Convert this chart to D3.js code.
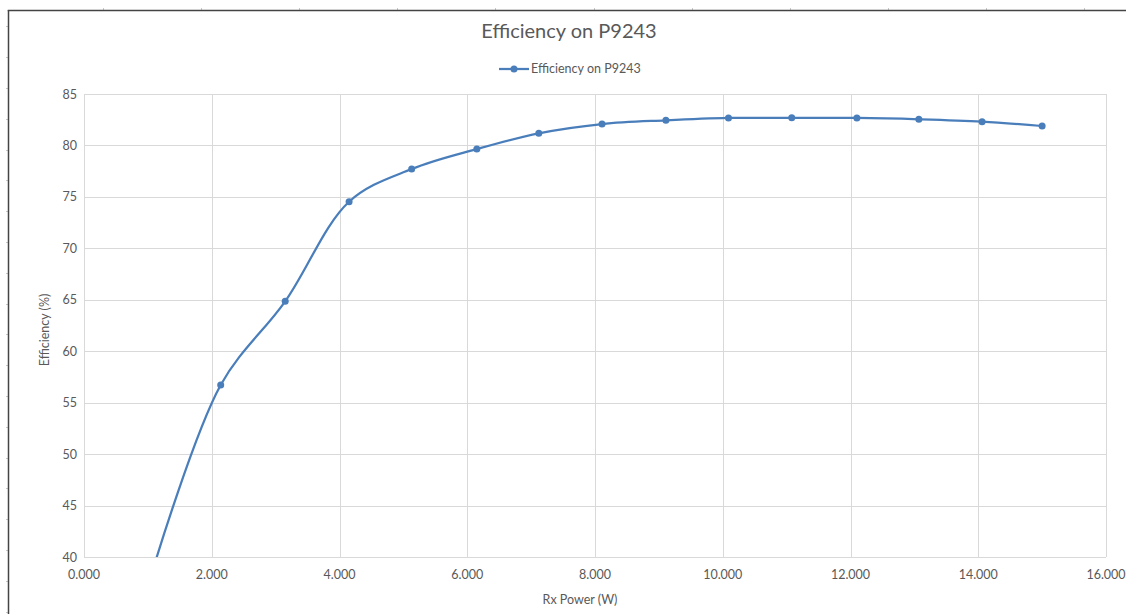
<!DOCTYPE html>
<html><head><meta charset="utf-8">
<script src="https://cdn.jsdelivr.net/npm/d3@7"></script>
<style>body{margin:0;background:#fff;} text{font-family:Lato,"Open Sans",sans-serif;}</style>
</head><body>
<svg id="c" width="1126" height="614"></svg>
<script>
const rxPower = [1.10, 2.14, 3.15, 4.15, 5.13, 6.15, 7.12, 8.11, 9.11, 10.09, 11.08, 12.10, 13.07, 14.06, 15.00];
const efficiency = [39.2, 56.72, 64.85, 74.53, 77.71, 79.65, 81.18, 82.08, 82.44, 82.67, 82.68, 82.67, 82.54, 82.31, 81.89];
const xTicks = [0, 2, 4, 6, 8, 10, 12, 14, 16];
const yTicks = [40, 45, 50, 55, 60, 65, 70, 75, 80, 85];
const seriesName = "Efficiency on P9243";
const titleText = "Efficiency on P9243";
const xTitle = "Rx Power (W)";
const yTitle = "Efficiency (%)";

const svg = d3.select("#c");
const L = 84, R = 1106, T = 94, B = 557;
const x = d3.scaleLinear().domain([0, 16]).range([L, R]);
const y = d3.scaleLinear().domain([40, 85]).range([B, T]);
const color = "#4a7ebb";

// tiny spreadsheet cell-border stubs touching the chart frame
const colEdges = d3.range(103, 1126, 98.1);
svg.append("g").selectAll("line").data(colEdges).join("line")
  .attr("x1", d => Math.round(d) + 0.5).attr("x2", d => Math.round(d) + 0.5).attr("y1", 8).attr("y2", 10)
  .attr("stroke", "#c8c8c8").attr("stroke-width", 1);
const rowEdges = d3.range(26.4, 614, 30.8);
svg.append("g").selectAll("line").data(rowEdges).join("line")
  .attr("x1", 6).attr("x2", 8).attr("y1", d => Math.round(d) + 0.5).attr("y2", d => Math.round(d) + 0.5)
  .attr("stroke", "#c8c8c8").attr("stroke-width", 1);

// chart frame
svg.append("line").attr("x1", 7.75).attr("x2", 1126).attr("y1", 10.5).attr("y2", 10.5).attr("stroke", "#444").attr("stroke-width", 1.5);
svg.append("line").attr("x1", 8.5).attr("x2", 8.5).attr("y1", 10).attr("y2", 614).attr("stroke", "#444").attr("stroke-width", 1.5);

// gridlines
svg.append("g").selectAll("line").data(yTicks).join("line")
  .attr("x1", L).attr("x2", R).attr("y1", d => Math.round(y(d)) + 0.5).attr("y2", d => Math.round(y(d)) + 0.5)
  .attr("stroke", "#d9d9d9").attr("stroke-width", 1);
svg.append("g").selectAll("line").data(xTicks).join("line")
  .attr("y1", T).attr("y2", B).attr("x1", d => Math.round(x(d)) + 0.5).attr("x2", d => Math.round(x(d)) + 0.5)
  .attr("stroke", "#d9d9d9").attr("stroke-width", 1);

// tick labels
svg.append("g").selectAll("text").data(yTicks).join("text")
  .attr("x", 77).attr("y", d => y(d) + 4.5).attr("text-anchor", "end")
  .attr("font-size", 12.5).attr("fill", "#595959").text(d => d);
svg.append("g").selectAll("text").data(xTicks).join("text")
  .attr("x", d => x(d)).attr("y", 579).attr("text-anchor", "middle")
  .attr("font-size", 12.5).attr("fill", "#595959").text(d => d3.format(".3f")(d));

// axis titles
svg.append("text").attr("x", 580).attr("y", 604).attr("text-anchor", "middle")
  .attr("font-size", 12.5).attr("fill", "#595959").text(xTitle);
svg.append("text").attr("transform", `translate(49,330) rotate(-90)`).attr("text-anchor", "middle")
  .attr("font-size", 12.5).attr("fill", "#595959").text(yTitle);

// title
svg.append("text").attr("x", 569).attr("y", 38).attr("text-anchor", "middle")
  .attr("font-size", 20).attr("fill", "#595959").text(titleText);

// legend
const lg = svg.append("g");
lg.append("line").attr("x1", 499).attr("x2", 529).attr("y1", 69).attr("y2", 69).attr("stroke", color).attr("stroke-width", 2.25);
lg.append("circle").attr("cx", 514).attr("cy", 69).attr("r", 3.5).attr("fill", color);
lg.append("text").attr("x", 531).attr("y", 73).attr("font-size", 12.5).attr("fill", "#595959").text(seriesName);

// clip
svg.append("clipPath").attr("id", "clip").append("rect").attr("x", L).attr("y", T - 10).attr("width", R - L).attr("height", B - T + 10);

const data = rxPower.map((v, i) => ({x: v, y: efficiency[i]}));
const line = d3.line().x(d => x(d.x)).y(d => y(d.y)).curve(d3.curveCatmullRom.alpha(0.5));
const pg = svg.append("g").attr("clip-path", "url(#clip)");
pg.append("path").datum(data).attr("d", line).attr("fill", "none").attr("stroke", color).attr("stroke-width", 2.25);
pg.selectAll("circle").data(data.filter(d => d.y >= 40)).join("circle")
  .attr("cx", d => x(d.x)).attr("cy", d => y(d.y)).attr("r", 3.5).attr("fill", color);
</script>
</body></html>
